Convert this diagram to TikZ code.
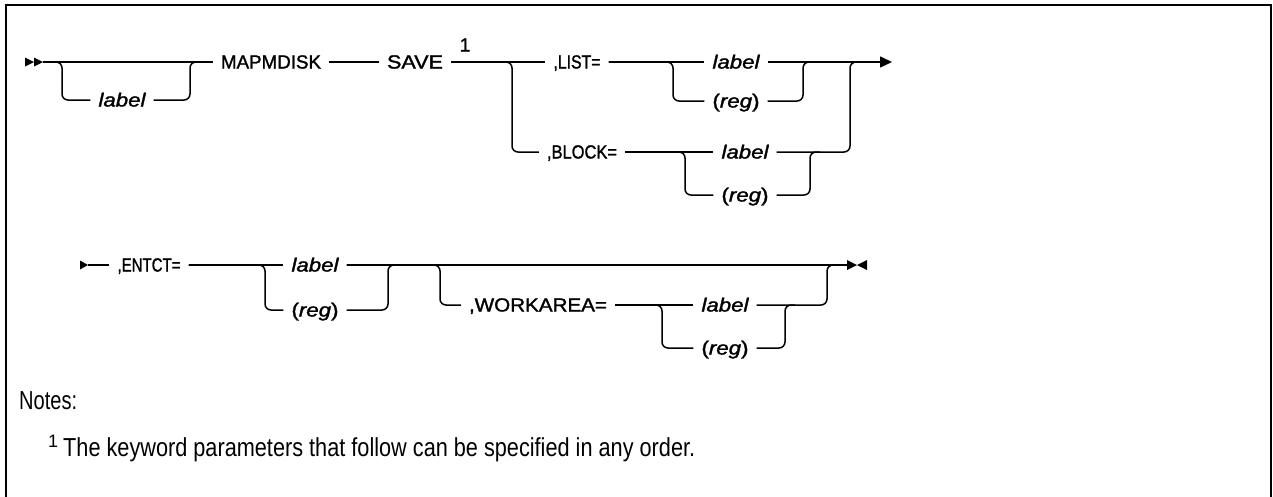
\documentclass[tikz,border=0pt]{standalone}
\usepackage{graphicx}
\usepackage{fontspec}
\setmainfont{Liberation Sans}
\newfontfamily\synfont[FakeBold=1.5]{Liberation Sans}
\newfontfamily\notefont{Liberation Sans}
\newcommand{\fw}[2]{\resizebox{#1pt}{\height}{#2}}
\newcommand{\lbl}{\fw{47}{\itshape label}}
\newcommand{\rg}{\fw{47}{(\textit{reg})}}
\usetikzlibrary{arrows.meta}
\begin{document}
\begin{tikzpicture}[x=1pt,y=-1pt,
  syn/.style={font=\synfont\fontsize{19}{22}\selectfont, inner xsep=8pt, inner ysep=0pt, text height=13pt, text depth=0pt, anchor=center},
  ln/.style={line width=1.5pt},
  rc/.style={ln, rounded corners=6pt},
  tri/.style={fill=black, draw=none},
  note/.style={font=\notefont\fontsize{26}{30}\selectfont, inner sep=0pt, anchor=base west}]
\useasboundingbox (0,0) rectangle (1273,496);
% frame
\draw[line width=2.5pt] (6,497) -- (6,5) -- (1271,5) -- (1271,497);

% ---------- row 1 ----------
\fill[tri] (25,57.5) -- (34,62) -- (25,66.5) -- cycle;
\fill[tri] (34,57.5) -- (43,62) -- (34,66.5) -- cycle;
\coordinate (start1) at (43,62);
\coordinate (o1L) at (52,62);
\coordinate (c1) at (62,62);
\coordinate (c2) at (190,62);
\coordinate (o1R) at (200,62);
\node[syn] (lbl1) at (122,100) {\lbl};
\node[syn] (mapm) at (271,62) {\fw{100}{MAPMDISK}};
\node[syn] (save) at (415,62) {\fw{56}{SAVE}};
\node[font=\synfont\fontsize{19}{22}\selectfont, inner sep=0pt] (sup1) at (465,45) {1};
\draw[ln] (start1) -- (mapm.west);
\draw[rc] (o1L) -- (c1) |- (lbl1.west);
\draw[rc] (lbl1.east) -| (c2) -- (o1R);
\draw[ln] (mapm.east) -- (save.west);

\node[syn] (list) at (577,62) {\fw{47}{,LIST=}};
\node[syn] (block) at (582,152) {\fw{70}{,BLOCK=}};
\coordinate (c3) at (512,62);
\draw[ln] (save.east) -- (list.west);
\draw[rc] (save.east) -- (c3) |- (block.west);

\node[syn] (lab2) at (736,62) {\lbl};
\node[syn] (reg2) at (736,101) {\rg};
\coordinate (c4) at (673,62);
\coordinate (c5) at (803,62);
\coordinate (e5) at (813,62);
\coordinate (tip1) at (892,62);
\draw[ln] (list.east) -- (lab2.west);
\draw[rc] (list.east) -- (c4) |- (reg2.west);
\draw[rc] (reg2.east) -| (c5) -- (e5);
\draw[ln, -{Triangle[length=12pt,width=11pt]}] (lab2.east) -- (tip1);

\node[syn] (lab3) at (745,152) {\lbl};
\node[syn] (reg3) at (745,195) {\rg};
\coordinate (c6) at (685,152);
\coordinate (c7) at (810,152);
\coordinate (e7) at (820,152);
\coordinate (c8) at (850,62);
\coordinate (e8) at (860,62);
\draw[ln] (block.east) -- (lab3.west);
\draw[rc] (block.east) -- (c6) |- (reg3.west);
\draw[rc] (reg3.east) -| (c7) -- (e7);
\draw[rc] (lab3.east) -| (c8) -- (e8);

% ---------- row 2 ----------
\fill[tri] (80,260.5) -- (88,265) -- (80,269.5) -- cycle;
\coordinate (start2) at (88,265);
\node[syn] (entct) at (149,265) {\fw{63}{,ENTCT=}};
\draw[ln] (start2) -- (entct.west);

\node[syn] (lab4) at (315,265) {\lbl};
\node[syn] (reg4) at (315,310) {\rg};
\coordinate (c9) at (265,265);
\coordinate (c10) at (388,265);
\coordinate (e10) at (398,265);
\coordinate (end2) at (847,265);
\draw[ln] (entct.east) -- (lab4.west);
\draw[rc] (entct.east) -- (c9) |- (reg4.west);
\draw[rc] (reg4.east) -| (c10) -- (e10);
\draw[ln] (lab4.east) -- (end2);

\node[syn] (work) at (538,305) {\fw{138}{,WORKAREA=}};
\coordinate (c11) at (440,265);
\draw[rc] (lab4.east) -- (c11) |- (work.west);

\node[syn] (lab5) at (725,305) {\lbl};
\node[syn] (reg5) at (725,348) {\rg};
\coordinate (c12) at (662,305);
\coordinate (c13) at (785,305);
\coordinate (e13) at (795,305);
\coordinate (c14) at (827,265);
\coordinate (e14) at (837,265);
\draw[ln] (work.east) -- (lab5.west);
\draw[rc] (work.east) -- (c12) |- (reg5.west);
\draw[rc] (reg5.east) -| (c13) -- (e13);
\draw[rc] (lab5.east) -| (c14) -- (e14);

\fill[tri] (847,260) -- (857,265) -- (847,270) -- cycle;
\fill[tri] (867,260) -- (857,265) -- (867,270) -- cycle;

% ---------- notes ----------
\node[note] (notes) at (19,409) {\fw{58}{Notes:}};
\node[note, font=\notefont\fontsize{18}{21}\selectfont] (fn1) at (48,447) {1};
\node[note] (fn) at (63,456) {\fw{632}{The keyword parameters that follow can be specified in any order.}};
\end{tikzpicture}
\end{document}
